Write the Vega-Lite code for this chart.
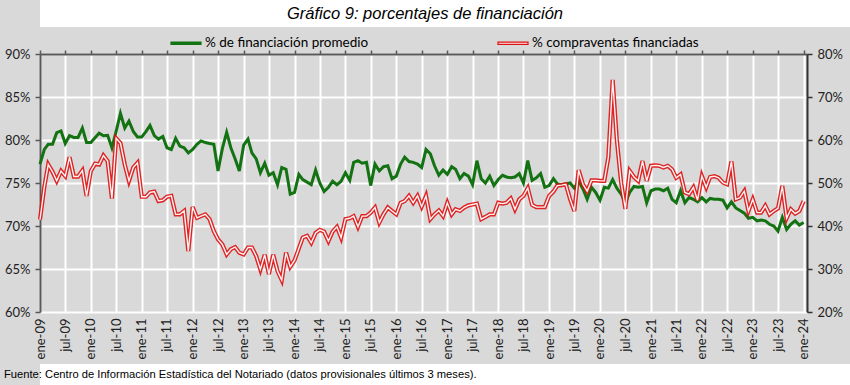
{
  "$schema": "https://vega.github.io/schema/vega-lite/v6.json",
  "background": "#d9d9d9",
  "padding": 0,
  "columns": 1,
  "spacing": 0,
  "config": {"view": {"stroke": null}, "concat": {"spacing": 0}},
  "resolve": {"scale": {"color": "independent"}, "legend": {"color": "independent"}},
  "datasets": {
    "series": [
      {"date":"2009-01-01","g":77.2,"r":41.5},{"date":"2009-02-01","g":78.9,"r":49.1},{"date":"2009-03-01","g":79.5,"r":54.3},{"date":"2009-04-01","g":79.5,"r":52.6},{"date":"2009-05-01","g":80.85,"r":50.5},{"date":"2009-06-01","g":81.05,"r":52.8},{"date":"2009-07-01","g":79.6,"r":51.6},{"date":"2009-08-01","g":80.5,"r":56.0},{"date":"2009-09-01","g":80.3,"r":51.5},{"date":"2009-10-01","g":80.3,"r":51.5},{"date":"2009-11-01","g":81.4,"r":52.9},{"date":"2009-12-01","g":79.7,"r":47.0},
      {"date":"2010-01-01","g":79.7,"r":52.8},{"date":"2010-02-01","g":80.3,"r":54.5},{"date":"2010-03-01","g":80.8,"r":54.3},{"date":"2010-04-01","g":80.5,"r":56.4},{"date":"2010-05-01","g":80.55,"r":55.1},{"date":"2010-06-01","g":79.1,"r":46.4},{"date":"2010-07-01","g":81.0,"r":60.4},{"date":"2010-08-01","g":83.1,"r":59.3},{"date":"2010-09-01","g":81.4,"r":54.3},{"date":"2010-10-01","g":82.2,"r":50.5},{"date":"2010-11-01","g":81.0,"r":53.6},{"date":"2010-12-01","g":80.35,"r":54.7},
      {"date":"2011-01-01","g":80.35,"r":46.8},{"date":"2011-02-01","g":81.0,"r":46.8},{"date":"2011-03-01","g":81.7,"r":47.8},{"date":"2011-04-01","g":80.5,"r":48.0},{"date":"2011-05-01","g":80.1,"r":45.8},{"date":"2011-06-01","g":80.4,"r":46.0},{"date":"2011-07-01","g":79.1,"r":46.8},{"date":"2011-08-01","g":78.9,"r":47.0},{"date":"2011-09-01","g":80.2,"r":42.7},{"date":"2011-10-01","g":79.3,"r":42.7},{"date":"2011-11-01","g":79.1,"r":43.5},{"date":"2011-12-01","g":78.5,"r":34.2},
      {"date":"2012-01-01","g":78.9,"r":44.4},{"date":"2012-02-01","g":79.5,"r":41.9},{"date":"2012-03-01","g":79.9,"r":42.3},{"date":"2012-04-01","g":79.7,"r":42.7},{"date":"2012-05-01","g":79.6,"r":41.6},{"date":"2012-06-01","g":79.5,"r":38.8},{"date":"2012-07-01","g":76.4,"r":36.9},{"date":"2012-08-01","g":79.0,"r":35.7},{"date":"2012-09-01","g":80.9,"r":33.4},{"date":"2012-10-01","g":79.1,"r":34.6},{"date":"2012-11-01","g":77.8,"r":35.1},{"date":"2012-12-01","g":76.4,"r":33.8},
      {"date":"2013-01-01","g":79.4,"r":33.4},{"date":"2013-02-01","g":80.1,"r":35.0},{"date":"2013-03-01","g":78.5,"r":35.0},{"date":"2013-04-01","g":77.8,"r":33.0},{"date":"2013-05-01","g":76.2,"r":29.9},{"date":"2013-06-01","g":77.3,"r":33.3},{"date":"2013-07-01","g":75.9,"r":28.8},{"date":"2013-08-01","g":76.2,"r":33.3},{"date":"2013-09-01","g":74.8,"r":29.5},{"date":"2013-10-01","g":76.8,"r":27.4},{"date":"2013-11-01","g":76.6,"r":33.8},{"date":"2013-12-01","g":73.7,"r":30.5},
      {"date":"2014-01-01","g":73.9,"r":32.0},{"date":"2014-02-01","g":76.0,"r":34.8},{"date":"2014-03-01","g":75.4,"r":37.3},{"date":"2014-04-01","g":75.1,"r":37.7},{"date":"2014-05-01","g":74.8,"r":36.1},{"date":"2014-06-01","g":76.5,"r":38.4},{"date":"2014-07-01","g":75.0,"r":39.1},{"date":"2014-08-01","g":74.0,"r":38.7},{"date":"2014-09-01","g":74.5,"r":36.5},{"date":"2014-10-01","g":75.2,"r":38.7},{"date":"2014-11-01","g":74.8,"r":39.8},{"date":"2014-12-01","g":75.2,"r":37.3},
      {"date":"2015-01-01","g":76.2,"r":41.6},{"date":"2015-02-01","g":75.3,"r":41.8},{"date":"2015-03-01","g":77.4,"r":42.3},{"date":"2015-04-01","g":77.6,"r":39.8},{"date":"2015-05-01","g":77.3,"r":42.3},{"date":"2015-06-01","g":77.4,"r":42.3},{"date":"2015-07-01","g":74.7,"r":43.1},{"date":"2015-08-01","g":77.2,"r":44.3},{"date":"2015-09-01","g":76.4,"r":40.8},{"date":"2015-10-01","g":76.9,"r":42.7},{"date":"2015-11-01","g":77.0,"r":44.3},{"date":"2015-12-01","g":75.5,"r":43.5},
      {"date":"2016-01-01","g":75.8,"r":42.7},{"date":"2016-02-01","g":77.2,"r":45.4},{"date":"2016-03-01","g":78.0,"r":45.8},{"date":"2016-04-01","g":77.5,"r":47.0},{"date":"2016-05-01","g":77.4,"r":45.4},{"date":"2016-06-01","g":77.2,"r":47.0},{"date":"2016-07-01","g":76.8,"r":44.5},{"date":"2016-08-01","g":78.9,"r":47.0},{"date":"2016-09-01","g":78.4,"r":41.6},{"date":"2016-10-01","g":77.0,"r":42.7},{"date":"2016-11-01","g":75.9,"r":43.6},{"date":"2016-12-01","g":76.5,"r":42.3},
      {"date":"2017-01-01","g":76.0,"r":45.4},{"date":"2017-02-01","g":76.9,"r":42.7},{"date":"2017-03-01","g":76.6,"r":43.9},{"date":"2017-04-01","g":75.5,"r":43.5},{"date":"2017-05-01","g":76.1,"r":44.3},{"date":"2017-06-01","g":75.8,"r":44.8},{"date":"2017-07-01","g":74.8,"r":45.0},{"date":"2017-08-01","g":77.6,"r":45.2},{"date":"2017-09-01","g":75.5,"r":41.6},{"date":"2017-10-01","g":75.0,"r":42.1},{"date":"2017-11-01","g":75.8,"r":42.7},{"date":"2017-12-01","g":74.7,"r":42.7},
      {"date":"2018-01-01","g":75.4,"r":45.4},{"date":"2018-02-01","g":75.9,"r":45.2},{"date":"2018-03-01","g":75.7,"r":45.4},{"date":"2018-04-01","g":75.6,"r":46.4},{"date":"2018-05-01","g":75.7,"r":43.9},{"date":"2018-06-01","g":76.1,"r":46.2},{"date":"2018-07-01","g":75.0,"r":47.0},{"date":"2018-08-01","g":77.6,"r":48.8},{"date":"2018-09-01","g":75.3,"r":44.9},{"date":"2018-10-01","g":75.6,"r":44.4},{"date":"2018-11-01","g":76.1,"r":44.4},{"date":"2018-12-01","g":74.5,"r":44.4},
      {"date":"2019-01-01","g":74.7,"r":47.0},{"date":"2019-02-01","g":75.5,"r":48.0},{"date":"2019-03-01","g":74.9,"r":49.4},{"date":"2019-04-01","g":74.8,"r":49.5},{"date":"2019-05-01","g":74.9,"r":49.7},{"date":"2019-06-01","g":75.0,"r":46.2},{"date":"2019-07-01","g":74.4,"r":43.5},{"date":"2019-08-01","g":75.2,"r":53.0},{"date":"2019-09-01","g":74.3,"r":49.7},{"date":"2019-10-01","g":73.1,"r":48.1},{"date":"2019-11-01","g":74.5,"r":50.6},{"date":"2019-12-01","g":73.9,"r":50.6},
      {"date":"2020-01-01","g":73.0,"r":50.5},{"date":"2020-02-01","g":74.5,"r":50.5},{"date":"2020-03-01","g":74.4,"r":56.0},{"date":"2020-04-01","g":75.4,"r":74.0},{"date":"2020-05-01","g":74.4,"r":60.0},{"date":"2020-06-01","g":73.7,"r":50.0},{"date":"2020-07-01","g":72.7,"r":44.0},{"date":"2020-08-01","g":73.9,"r":52.8},{"date":"2020-09-01","g":74.6,"r":51.4},{"date":"2020-10-01","g":74.5,"r":50.5},{"date":"2020-11-01","g":74.6,"r":55.1},{"date":"2020-12-01","g":72.7,"r":50.5},
      {"date":"2021-01-01","g":74.1,"r":54.0},{"date":"2021-02-01","g":74.3,"r":54.1},{"date":"2021-03-01","g":74.3,"r":54.0},{"date":"2021-04-01","g":74.1,"r":53.6},{"date":"2021-05-01","g":74.4,"r":54.0},{"date":"2021-06-01","g":73.1,"r":53.2},{"date":"2021-07-01","g":72.7,"r":51.2},{"date":"2021-08-01","g":74.1,"r":52.0},{"date":"2021-09-01","g":72.7,"r":47.8},{"date":"2021-10-01","g":73.3,"r":47.4},{"date":"2021-11-01","g":73.1,"r":49.0},{"date":"2021-12-01","g":72.8,"r":46.0},
      {"date":"2022-01-01","g":73.3,"r":51.6},{"date":"2022-02-01","g":72.8,"r":49.0},{"date":"2022-03-01","g":73.2,"r":51.4},{"date":"2022-04-01","g":73.1,"r":51.6},{"date":"2022-05-01","g":73.1,"r":51.2},{"date":"2022-06-01","g":73.0,"r":50.1},{"date":"2022-07-01","g":72.1,"r":49.7},{"date":"2022-08-01","g":72.8,"r":55.0},{"date":"2022-09-01","g":72.1,"r":46.2},{"date":"2022-10-01","g":71.8,"r":46.6},{"date":"2022-11-01","g":71.5,"r":48.1},{"date":"2022-12-01","g":70.9,"r":43.5},
      {"date":"2023-01-01","g":71.0,"r":46.2},{"date":"2023-02-01","g":70.6,"r":43.1},{"date":"2023-03-01","g":70.7,"r":43.1},{"date":"2023-04-01","g":70.6,"r":44.7},{"date":"2023-05-01","g":70.2,"r":42.7},{"date":"2023-06-01","g":70.0,"r":43.5},{"date":"2023-07-01","g":69.4,"r":44.1},{"date":"2023-08-01","g":71.0,"r":49.3},{"date":"2023-09-01","g":69.6,"r":41.8},{"date":"2023-10-01","g":70.2,"r":43.9},{"date":"2023-11-01","g":70.6,"r":42.9},{"date":"2023-12-01","g":70.1,"r":43.5},
      {"date":"2024-01-01","g":70.4,"r":45.8}
    ]
  },
  "concat": [
    {
      "width": 810,
      "height": 27,
      "view": {"fill": "white", "stroke": null},
      "data": {"values": [{}]},
      "mark": {"type": "text", "text": "Gráfico 9: porcentajes de financiación", "font": "Liberation Sans", "fontSize": 16.5, "fontStyle": "italic", "color": "black", "dx": -20}
    },
    {
      "width": 767,
      "height": 258,
      "view": {"fill": "#d9d9d9", "stroke": null},
      "data": {"name": "series"},
      "layer": [
        {
          "mark": {"type": "line", "color": "#137313", "strokeWidth": 3},
          "encoding": {
            "x": {
              "field": "date", "type": "temporal",
              "scale": {"type": "utc", "domain": [{"year": 2009, "month": 1, "date": 1, "utc": true}, {"year": 2024, "month": 1, "date": 25, "utc": true}]},
              "axis": {
                "orient": "bottom", "title": null,
                "tickCount": {"interval": "month", "step": 6},
                "labelExpr": "(utcmonth(datum.value) == 0 ? 'ene' : 'jul') + '-' + utcFormat(datum.value, '%y')",
                "labelAngle": -90, "labelFont": "Lato", "labelFontSize": 13, "labelColor": "#222222", "labelPadding": 6,
                "grid": true, "gridColor": "white", "gridWidth": 2,
                "domain": false, "ticks": false, "minExtent": 52
              }
            },
            "y": {
              "field": "g", "type": "quantitative",
              "scale": {"domain": [60, 90]},
              "axis": {
                "orient": "left", "title": null, "values": [60, 65, 70, 75, 80, 85, 90],
                "labelExpr": "datum.value + '%'",
                "labelFont": "Lato", "labelFontSize": 13, "labelColor": "#222222", "labelPadding": 5,
                "grid": true, "gridColor": "white", "gridWidth": 2,
                "domain": true, "domainColor": "#595959", "domainWidth": 2,
                "ticks": true, "tickColor": "#595959", "tickSize": 5, "tickWidth": 1.5,
                "minExtent": 40
              }
            },
            "color": {
              "datum": "% de financiación promedio", "type": "nominal",
              "scale": {"domain": ["% de financiación promedio", "% compraventas financiadas"], "range": ["#137313", "#dd1111"]},
              "legend": {
                "orient": "none", "legendX": 130, "legendY": -27, "direction": "horizontal", "title": null,
                "symbolType": "M-1,-0.08L1,-0.08L1,0.08L-1,0.08Z", "symbolSize": 900, "symbolStrokeWidth": 1.2,
                "labelFont": "Lato", "labelFontSize": 13.5, "labelColor": "black", "labelOffset": 3, "labelLimit": 400,
                "columnPadding": 126, "padding": 0,
                "encode": {"symbols": {"update": {"fill": {"signal": "datum.value == '% de financiación promedio' ? '#137313' : '#fff4f4'"}, "fillOpacity": {"value": 1}}}}
              }
            }
          }
        },
        {
          "mark": {"type": "line", "strokeWidth": 4.2, "opacity": 0.9},
          "encoding": {
            "x": {
              "field": "date", "type": "temporal",
              "scale": {"type": "utc", "domain": [{"year": 2009, "month": 1, "date": 1, "utc": true}, {"year": 2024, "month": 1, "date": 25, "utc": true}]},
              "axis": {
                "orient": "top", "title": null, "labels": false, "grid": false,
                "tickCount": {"interval": "month", "step": 6},
                "domain": true, "domainColor": "#595959", "domainWidth": 2,
                "ticks": true, "tickColor": "#595959", "tickSize": 4, "tickWidth": 1.5
              }
            },
            "y": {
              "field": "r", "type": "quantitative",
              "scale": {"domain": [20, 80]},
              "axis": {
                "orient": "right", "title": null, "values": [20, 30, 40, 50, 60, 70, 80],
                "labelExpr": "datum.value + '%'",
                "labelFont": "Lato", "labelFontSize": 13, "labelColor": "#222222", "labelPadding": 5,
                "grid": false,
                "domain": true, "domainColor": "#333333", "domainWidth": 2,
                "ticks": true, "tickColor": "#333333", "tickSize": 5, "tickWidth": 1.5
              }
            },
            "color": {"datum": "% compraventas financiadas", "type": "nominal"}
          }
        },
        {
          "mark": {"type": "line", "color": "#fff4f4", "strokeWidth": 1.4},
          "encoding": {
            "x": {
              "field": "date", "type": "temporal",
              "scale": {"type": "utc", "domain": [{"year": 2009, "month": 1, "date": 1, "utc": true}, {"year": 2024, "month": 1, "date": 25, "utc": true}]},
              "axis": null
            },
            "y": {"field": "r", "type": "quantitative", "scale": {"domain": [20, 80]}, "axis": null}
          }
        }
      ],
      "resolve": {"scale": {"y": "independent"}, "axis": {"x": "independent"}}
    },
    {
      "width": 810,
      "height": 21,
      "view": {"fill": "white", "stroke": null},
      "data": {"values": [{}]},
      "mark": {"type": "text", "text": "Fuente: Centro de Información Estadística del Notariado (datos provisionales últimos 3 meses).", "font": "Liberation Sans", "fontSize": 11.2, "color": "black", "align": "left", "baseline": "middle"},
      "encoding": {"x": {"value": -36}}
    }
  ]
}
